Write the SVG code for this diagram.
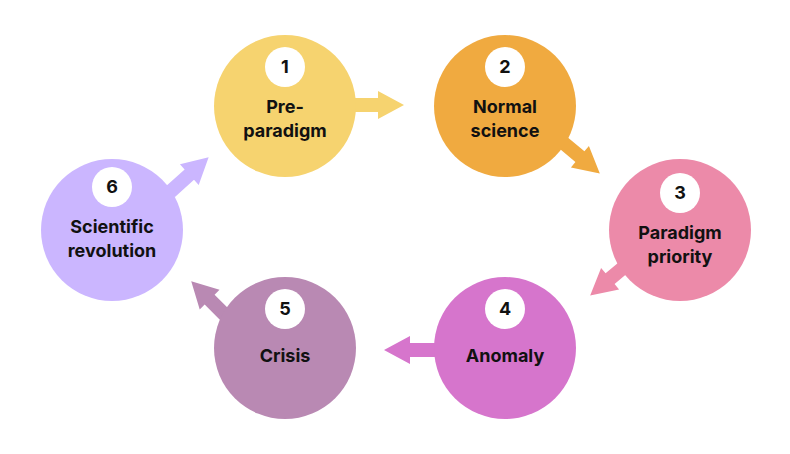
<svg xmlns="http://www.w3.org/2000/svg" width="790" height="454" viewBox="0 0 790 454">
<style>
.lbl{font-family:Inter,"Liberation Sans",sans-serif;font-weight:700;font-size:18px;fill:#111;text-anchor:middle}
.num{font-family:Inter,"Liberation Sans",sans-serif;font-weight:700;font-size:18px;fill:#111;text-anchor:middle}
.badge{fill:#fff}
</style>
<defs>
<path id="arr" d="M0,-7 L26,-7 L26,-14 L52,0 L26,14 L26,7 L0,7 Z"/>
</defs>
<rect width="790" height="454" fill="#fff"/>
<g id="connectors">
<use href="#arr" transform="translate(352,105)" fill="#f6d36f"/>
<use href="#arr" transform="translate(560,140) rotate(40)" fill="#f0aa40"/>
<use href="#arr" transform="translate(630,262) rotate(140)" fill="#ec8aa9"/>
<use href="#arr" transform="translate(436,350) rotate(180)" fill="#d675cc"/>
<use href="#arr" transform="translate(228,318) rotate(-135)" fill="#b989b3"/>
<use href="#arr" transform="translate(170,192) rotate(-42)" fill="#cbb6ff"/>
</g>
<g id="n1"><circle cx="285" cy="106" r="71" fill="#f6d36f"/><circle class="badge" cx="285" cy="67" r="20"/><text class="num" x="285" y="73">1</text><text class="lbl" x="285" y="113">Pre-</text><text class="lbl" x="285" y="137">paradigm</text></g>
<g id="n2"><circle cx="505" cy="106" r="71" fill="#f0aa40"/><circle class="badge" cx="505" cy="67" r="20"/><text class="num" x="505" y="73">2</text><text class="lbl" x="505" y="113">Normal</text><text class="lbl" x="505" y="137">science</text></g>
<g id="n3"><circle cx="680" cy="230" r="71" fill="#ec8aa9"/><circle class="badge" cx="680" cy="193" r="20"/><text class="num" x="680" y="199">3</text><text class="lbl" x="680" y="239">Paradigm</text><text class="lbl" x="680" y="263">priority</text></g>
<g id="n4"><circle cx="505" cy="348" r="71" fill="#d675cc"/><circle class="badge" cx="505" cy="309" r="20"/><text class="num" x="505" y="315">4</text><text class="lbl" x="505" y="362">Anomaly</text></g>
<g id="n5"><circle cx="285" cy="348" r="71" fill="#b989b3"/><circle class="badge" cx="285" cy="309" r="20"/><text class="num" x="285" y="315">5</text><text class="lbl" x="285" y="362">Crisis</text></g>
<g id="n6"><circle cx="112" cy="230" r="71" fill="#cbb6ff"/><circle class="badge" cx="112" cy="187" r="20"/><text class="num" x="112" y="193">6</text><text class="lbl" x="112" y="233">Scientific</text><text class="lbl" x="112" y="257">revolution</text></g>
</svg>
